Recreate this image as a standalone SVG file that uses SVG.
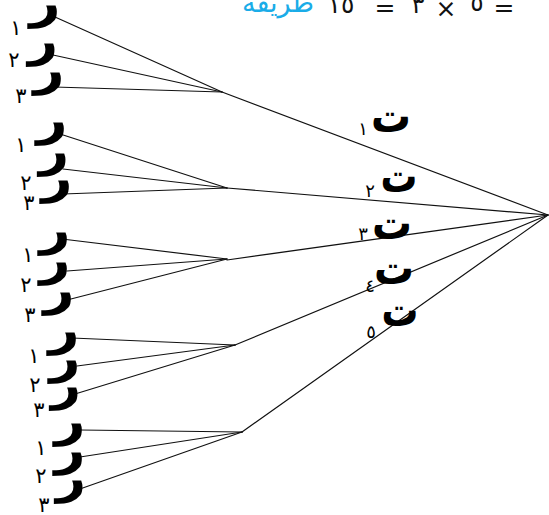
<svg xmlns="http://www.w3.org/2000/svg" width="549" height="515" viewBox="0 0 549 515">
  <style>
    .edge { stroke: #111; stroke-width: 1.2; fill: none; stroke-linecap: round; }
    .ra { font-family: "DejaVu Sans", sans-serif; font-weight: bold; font-size: 46px; fill: #000; text-anchor: middle; }
    .ta { font-family: "DejaVu Sans", sans-serif; font-weight: bold; font-size: 46px; fill: #000; text-anchor: middle; }
    .sub { font-family: "DejaVu Sans", sans-serif; font-size: 21px; fill: #000; text-anchor: middle; }
    .tsub { font-family: "DejaVu Sans", sans-serif; font-size: 18px; fill: #000; text-anchor: middle; }
    .eq { font-family: "DejaVu Sans", sans-serif; font-size: 25px; fill: #111; text-anchor: middle; }
    .word { fill: #1aace8; font-size: 27px; }
  </style>
  <rect width="549" height="515" fill="#fff"/>

  <!-- heading: 5 x 3 = 15 ways -->
  <g id="heading">
    <text class="eq word" x="278" y="12">طريقة</text>
    <text class="eq" x="341" y="13">١٥</text>
    <text class="eq" x="385" y="16">=</text>
    <text class="eq" x="418" y="13">٣</text>
    <text class="eq" x="446" y="17">×</text>
    <text class="eq" x="477" y="11">٥</text>
    <text class="eq" x="504" y="16">=</text>
  </g>

  <g id="connectors">
    <!-- branches from the root -->
    <line class="edge" x1="548" y1="215" x2="222" y2="92"/>
    <line class="edge" x1="548" y1="215" x2="227" y2="188"/>
    <line class="edge" x1="548" y1="215" x2="227" y2="260"/>
    <line class="edge" x1="548" y1="215" x2="235" y2="345"/>
    <line class="edge" x1="548" y1="215" x2="242" y2="432"/>
    <!-- leaves of t1 -->
    <line class="edge" x1="222" y1="92" x2="55" y2="17"/>
    <line class="edge" x1="222" y1="92" x2="53" y2="55"/>
    <line class="edge" x1="222" y1="92" x2="54" y2="87"/>
    <!-- leaves of t2 -->
    <line class="edge" x1="227" y1="188" x2="57" y2="133"/>
    <line class="edge" x1="227" y1="188" x2="63" y2="169"/>
    <line class="edge" x1="227" y1="188" x2="63" y2="194"/>
    <!-- leaves of t3 -->
    <line class="edge" x1="227" y1="259" x2="62" y2="239"/>
    <line class="edge" x1="227" y1="259" x2="67" y2="271"/>
    <line class="edge" x1="227" y1="259" x2="67" y2="300"/>
    <!-- leaves of t4 -->
    <line class="edge" x1="235" y1="345" x2="72" y2="338"/>
    <line class="edge" x1="235" y1="345" x2="77" y2="366"/>
    <line class="edge" x1="235" y1="345" x2="75" y2="394"/>
    <!-- leaves of t5 -->
    <line class="edge" x1="242" y1="432" x2="80" y2="430"/>
    <line class="edge" x1="242" y1="432" x2="80" y2="457"/>
    <line class="edge" x1="242" y1="432" x2="77" y2="490"/>
  </g>

  <!-- middle nodes -->
  <g id="t1"><text class="ta" x="391" y="132" textLength="40" lengthAdjust="spacingAndGlyphs">ت</text><text class="tsub" x="363" y="135">١</text></g>
  <g id="t2"><text class="ta" x="399" y="192" textLength="37" lengthAdjust="spacingAndGlyphs">ت</text><text class="tsub" x="370" y="197">٢</text></g>
  <g id="t3"><text class="ta" x="392" y="239" textLength="40" lengthAdjust="spacingAndGlyphs">ت</text><text class="tsub" x="363" y="240">٣</text></g>
  <g id="t4"><text class="ta" x="394" y="284" textLength="40" lengthAdjust="spacingAndGlyphs">ت</text><text class="tsub" x="370" y="292">٤</text></g>
  <g id="t5"><text class="ta" x="400" y="326" textLength="37" lengthAdjust="spacingAndGlyphs">ت</text><text class="tsub" x="371" y="338">٥</text></g>

  <!-- leaves, group 1 -->
  <g id="r1-1"><text class="ra" x="45" y="18" textLength="31" lengthAdjust="spacingAndGlyphs">ر</text><text class="sub" x="16" y="35">١</text></g>
  <g id="r1-2"><text class="ra" x="43" y="56" textLength="30" lengthAdjust="spacingAndGlyphs">ر</text><text class="sub" x="14" y="67">٢</text></g>
  <g id="r1-3"><text class="ra" x="49" y="85" textLength="31" lengthAdjust="spacingAndGlyphs">ر</text><text class="sub" x="21" y="103">٣</text></g>
  <!-- leaves, group 2 -->
  <g id="r2-1"><text class="ra" x="52" y="135" textLength="31" lengthAdjust="spacingAndGlyphs">ر</text><text class="sub" x="21" y="152">١</text></g>
  <g id="r2-2"><text class="ra" x="54" y="166" textLength="30" lengthAdjust="spacingAndGlyphs">ر</text><text class="sub" x="26" y="190">٢</text></g>
  <g id="r2-3"><text class="ra" x="57" y="193" textLength="31" lengthAdjust="spacingAndGlyphs">ر</text><text class="sub" x="29" y="210">٣</text></g>
  <!-- leaves, group 3 -->
  <g id="r3-1"><text class="ra" x="55" y="245" textLength="31" lengthAdjust="spacingAndGlyphs">ر</text><text class="sub" x="28" y="262">١</text></g>
  <g id="r3-2"><text class="ra" x="55" y="275" textLength="31" lengthAdjust="spacingAndGlyphs">ر</text><text class="sub" x="26" y="292">٢</text></g>
  <g id="r3-3"><text class="ra" x="59" y="305" textLength="31" lengthAdjust="spacingAndGlyphs">ر</text><text class="sub" x="30" y="322">٣</text></g>
  <!-- leaves, group 4 -->
  <g id="r4-1"><text class="ra" x="64" y="345" textLength="31" lengthAdjust="spacingAndGlyphs">ر</text><text class="sub" x="34" y="363">١</text></g>
  <g id="r4-2"><text class="ra" x="65" y="373" textLength="31" lengthAdjust="spacingAndGlyphs">ر</text><text class="sub" x="35" y="392">٢</text></g>
  <g id="r4-3"><text class="ra" x="66" y="400" textLength="30" lengthAdjust="spacingAndGlyphs">ر</text><text class="sub" x="39" y="417">٣</text></g>
  <!-- leaves, group 5 -->
  <g id="r5-1"><text class="ra" x="70" y="436" textLength="31" lengthAdjust="spacingAndGlyphs">ر</text><text class="sub" x="41" y="455">١</text></g>
  <g id="r5-2"><text class="ra" x="70" y="465" textLength="31" lengthAdjust="spacingAndGlyphs">ر</text><text class="sub" x="41" y="483">٢</text></g>
  <g id="r5-3"><text class="ra" x="71" y="493" textLength="30" lengthAdjust="spacingAndGlyphs">ر</text><text class="sub" x="44" y="512">٣</text></g>
</svg>
